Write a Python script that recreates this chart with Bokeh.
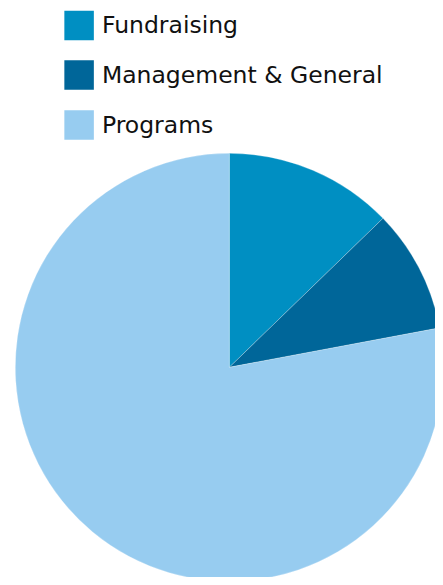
import numpy as np
from bokeh.plotting import figure
from bokeh.models import Range1d, ColumnDataSource
from bokeh.core.properties import value
from bokeh.embed import file_html
from bokeh.resources import INLINE

categories = ["Fundraising", "Management & General", "Programs"]
shares = [12.75, 9.3, 77.95]
colors = ["#008FC2", "#006699", "#97CCF0"]

W, H = 435, 577
p = figure(width=W, height=H, output_backend="svg", toolbar_location=None,
           x_range=Range1d(0, W), y_range=Range1d(0, H), min_border=0,
           background_fill_color="white", border_fill_color="white")
p.axis.visible = False
p.grid.visible = False
p.outline_line_color = None

vals = np.array(shares, dtype=float)
frac = vals / vals.sum()
cum = np.concatenate([[0], np.cumsum(frac)])
start = np.pi / 2 - 2 * np.pi * cum[:-1]
end = np.pi / 2 - 2 * np.pi * cum[1:]

src = ColumnDataSource(dict(cat=categories, start=start, end=end, color=colors))
p.wedge(x=228.8, y=H - 366.8, radius=214, start_angle="start", end_angle="end",
        direction="clock", fill_color="color", line_color="white",
        line_alpha=0.35, line_width=0.7, source=src)

# legend drawn as swatches + labels
row_y = [H - 24.9, H - 74.6, H - 124.6]
leg = ColumnDataSource(dict(x=[78.6] * 3, y=row_y, color=colors, label=categories))
p.rect(x="x", y="y", width=29.5, height=29.5, fill_color="color", line_color=None, source=leg)
p.text(x=101.4, y="y", text="label", text_font=value("DejaVu Sans"), text_font_size="23.5px",
       text_baseline="middle", text_align="left", text_color="#111111", source=leg)

open("out.html", "w").write(file_html(p, INLINE))
